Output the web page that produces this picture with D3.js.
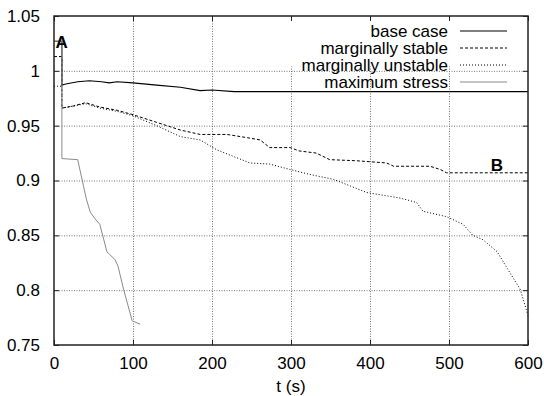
<!DOCTYPE html>
<html lang="en">
<head>
    <meta charset="UTF-8">
    <title>Voltage vs time</title>
    <script src="https://d3js.org/d3.v7.min.js"></script>
    <style>
        body { margin: 0; background: white; }
        text { font-family: "Liberation Sans", Arial, sans-serif; fill: black; }
    </style>
</head>
<body>
    <script>
        // Data
        const xTicks = [0, 100, 200, 300, 400, 500, 600];
        const yTicks = [0.75, 0.8, 0.85, 0.9, 0.95, 1, 1.05];

        const baseT = [0, 10, 10, 15, 30, 45, 60, 70, 80, 100, 130, 160, 185, 200, 228, 600];
        const baseV = [1.027, 1.027, 0.987, 0.988, 0.990, 0.991, 0.990, 0.989, 0.990, 0.989, 0.987, 0.985, 0.982, 0.9825, 0.981, 0.981];

        const stableT = [0, 10, 10, 25, 40, 58, 80, 100, 130, 160, 185, 219, 245, 261, 273, 299, 310, 332, 349, 383, 421, 430, 476, 489, 497, 600];
        const stableV = [1.013, 1.013, 0.966, 0.968, 0.971, 0.967, 0.964, 0.960, 0.953, 0.946, 0.942, 0.942, 0.939, 0.937, 0.930, 0.930, 0.927, 0.925, 0.919, 0.918, 0.916, 0.913, 0.913, 0.910, 0.907, 0.907];

        const unstableT = [0, 10, 10, 25, 40, 58, 80, 100, 130, 160, 185, 206, 227, 248, 273, 299, 324, 354, 375, 396, 438, 459, 467, 497, 518, 530, 543, 561, 577, 590, 600];
        const unstableV = [0.986, 0.986, 0.966, 0.968, 0.970, 0.966, 0.963, 0.959, 0.950, 0.940, 0.937, 0.928, 0.922, 0.916, 0.915, 0.910, 0.9055, 0.901, 0.895, 0.889, 0.884, 0.880, 0.872, 0.867, 0.860, 0.850, 0.846, 0.835, 0.816, 0.801, 0.777];

        const stressT = [0, 10, 10, 30, 41, 46, 52, 58, 67, 77, 81, 88, 99, 109];
        const stressV = [1.027, 1.027, 0.920, 0.919, 0.883, 0.871, 0.865, 0.860, 0.835, 0.828, 0.822, 0.801, 0.772, 0.769];

        const seriesNames = ["base case", "marginally stable", "marginally unstable", "maximum stress"];
        const seriesT = [baseT, stableT, unstableT, stressT];
        const seriesV = [baseV, stableV, unstableV, stressV];
        const seriesStyle = [
            {stroke: "#000", dash: null, w: 1.1},
            {stroke: "#000", dash: "3,2", w: 1},
            {stroke: "#000", dash: "1,2", w: 1},
            {stroke: "#8a8a8a", dash: null, w: 1}
        ];

        const W = 544, H = 396;
        const margin = {top: 16, right: 16, bottom: 51, left: 54};
        const width = W - margin.left - margin.right;
        const height = H - margin.top - margin.bottom;

        const svg = d3.select("body")
            .append("svg")
            .attr("width", W)
            .attr("height", H);

        const g = svg.append("g")
            .attr("transform", `translate(${margin.left},${margin.top})`);

        const x = d3.scaleLinear().domain([0, 600]).range([0, width]);
        const y = d3.scaleLinear().domain([0.75, 1.05]).range([height, 0]);

        // Grid (dotted grey)
        const grid = g.append("g")
            .attr("stroke", "#777")
            .attr("stroke-width", 1)
            .attr("stroke-dasharray", "1,1.5");
        grid.selectAll(".gx")
            .data(xTicks.slice(1, -1))
            .enter()
            .append("line")
            .attr("x1", d => x(d) + 0.5).attr("x2", d => x(d) + 0.5)
            .attr("y1", 0).attr("y2", height);
        grid.selectAll(".gy")
            .data(yTicks.slice(1, -1))
            .enter()
            .append("line")
            .attr("x1", 0).attr("x2", width)
            .attr("y1", d => y(d) + 0.5).attr("y2", d => y(d) + 0.5);

        // Legend background hides the grid behind it
        const legX = x(243), legW = x(584) - x(243);
        g.append("rect")
            .attr("x", legX).attr("y", 1)
            .attr("width", legW).attr("height", y(1.004) - 1)
            .attr("fill", "white");

        // Axes with inward ticks, mirrored
        const tickLen = 5;
        g.append("g")
            .attr("transform", `translate(0,${height})`)
            .call(d3.axisBottom(x).tickValues(xTicks).tickSize(-tickLen).tickPadding(12).tickFormat(d3.format("d")))
            .call(a => a.select(".domain").remove());
        g.append("g")
            .call(d3.axisTop(x).tickValues(xTicks).tickSize(-tickLen).tickFormat(""))
            .call(a => a.select(".domain").remove());
        g.append("g")
            .call(d3.axisLeft(y).tickValues(yTicks).tickSize(-tickLen).tickPadding(14).tickFormat(d => String(+d.toFixed(2))))
            .call(a => a.select(".domain").remove());
        g.append("g")
            .attr("transform", `translate(${width},0)`)
            .call(d3.axisRight(y).tickValues(yTicks).tickSize(-tickLen).tickFormat(""))
            .call(a => a.select(".domain").remove());
        g.selectAll(".tick line").attr("stroke", "#222");
        g.selectAll(".tick text").attr("font-size", 17).attr("font-family", "Liberation Sans, Arial, sans-serif");

        // Series
        const line = d3.line().x(d => x(d[0])).y(d => y(d[1]));
        seriesT.forEach((ts, i) => {
            const pts = ts.map((t, j) => [t, seriesV[i][j]]);
            const st = seriesStyle[i];
            g.append("path")
                .datum(pts)
                .attr("fill", "none")
                .attr("stroke", st.stroke)
                .attr("stroke-width", st.w)
                .attr("stroke-dasharray", st.dash)
                .attr("d", line);
        });

        // Frame
        g.append("rect")
            .attr("width", width).attr("height", height)
            .attr("fill", "none")
            .attr("stroke", "#222")
            .attr("stroke-width", 1.5);

        // Legend
        const legend = g.append("g");
        seriesNames.forEach((name, i) => {
            const ly = 15 + i * 17;
            const st = seriesStyle[i];
            legend.append("text")
                .attr("x", 394).attr("y", ly)
                .attr("dy", "0.35em")
                .attr("text-anchor", "end")
                .attr("font-size", 17)
                .text(name);
            legend.append("line")
                .attr("x1", 406).attr("x2", 453)
                .attr("y1", ly).attr("y2", ly)
                .attr("stroke", st.stroke)
                .attr("stroke-width", st.w)
                .attr("stroke-dasharray", st.dash);
        });

        // Annotations
        g.append("text").attr("x", x(2)).attr("y", y(1.021))
            .attr("font-size", 17).attr("font-weight", "bold").text("A");
        g.append("text").attr("x", x(553)).attr("y", y(0.9085))
            .attr("font-size", 17).attr("font-weight", "bold").text("B");

        // Axis title
        svg.append("text")
            .attr("x", margin.left + x(300))
            .attr("y", 386)
            .attr("dy", "0.35em")
            .attr("text-anchor", "middle")
            .attr("font-size", 17)
            .text("t (s)");
    </script>
</body>
</html>
